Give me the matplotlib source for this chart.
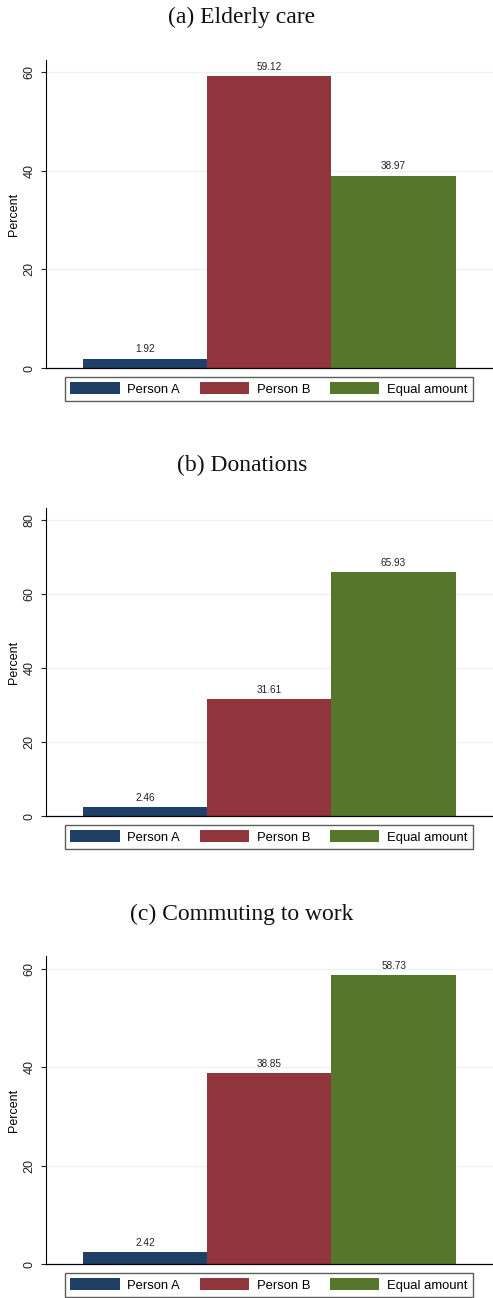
import numpy as np
import matplotlib.pyplot as plt

plt.rcParams['font.family'] = ['Liberation Sans', 'DejaVu Sans']

categories = ["Person A", "Person B", "Equal amount"]
panel_titles = ["(a) Elderly care", "(b) Donations", "(c) Commuting to work"]
elderly_care = [1.92, 59.12, 38.97]
donations = [2.46, 31.61, 65.93]
commuting = [2.42, 38.85, 58.73]
panel_values = [elderly_care, donations, commuting]
y_ticks = [[0, 20, 40, 60], [0, 20, 40, 60, 80], [0, 20, 40, 60]]
y_tops = [62.4, 83.2, 62.6]

bar_colors = ["#1f3f66", "#90353b", "#56762b"]

W, H = 493, 1298
fig = plt.figure(figsize=(W / 100, H / 100), dpi=100)

# pixel layout of each panel: (axes top, axes bottom, title baseline)
layout = [(60, 368, 23), (508, 816, 471), (956, 1264, 920)]
ax_left = 45.7

for values, title, ticks, ytop, (top, bottom, title_y) in zip(
        panel_values, panel_titles, y_ticks, y_tops, layout):
    ax = fig.add_axes([ax_left / W, 1 - bottom / H, (W - ax_left) / W, (bottom - top) / H])

    for i, (cat, val) in enumerate(zip(categories, values)):
        bars = ax.bar(i, val, width=1.0, color=bar_colors[i], label=cat, zorder=2)
        ax.bar_label(bars, labels=[f"{val:.2f}"], padding=3, fontsize=7.2, color="#222222")

    ax.set_xlim(-0.8, 2.8)
    ax.set_ylim(0, ytop)
    ax.set_yticks(ticks)
    ax.set_yticklabels([str(t) for t in ticks], rotation=90, va="center", fontsize=9)
    ax.tick_params(axis="y", length=3.6, width=0.8, pad=3.6, colors="#222222")
    ax.set_xticks([])
    for t in ticks[1:]:
        ax.axhline(t, color="#eaf2f3", lw=0.9, zorder=1)

    ax.set_ylabel("Percent", fontsize=9, labelpad=2.6)
    for side in ("top", "right"):
        ax.spines[side].set_visible(False)
    ax.spines["left"].set_linewidth(0.8)
    ax.spines["bottom"].set_linewidth(0.9)

    leg = ax.legend(loc="upper center", bbox_to_anchor=(0.4985, -0.029), ncol=3,
                    fontsize=9.4, handlelength=3.8, handleheight=1.0, handletextpad=0.57,
                    columnspacing=1.5, borderpad=0.42, borderaxespad=0, frameon=True,
                    fancybox=False, edgecolor="#333333")
    leg.get_frame().set_linewidth(1.0)

    fig.text(242 / W, 1 - title_y / H, title, ha="center", va="baseline",
             fontsize=17, family="Liberation Serif", color="#111111")

fig.savefig("out.png", dpi=100)
